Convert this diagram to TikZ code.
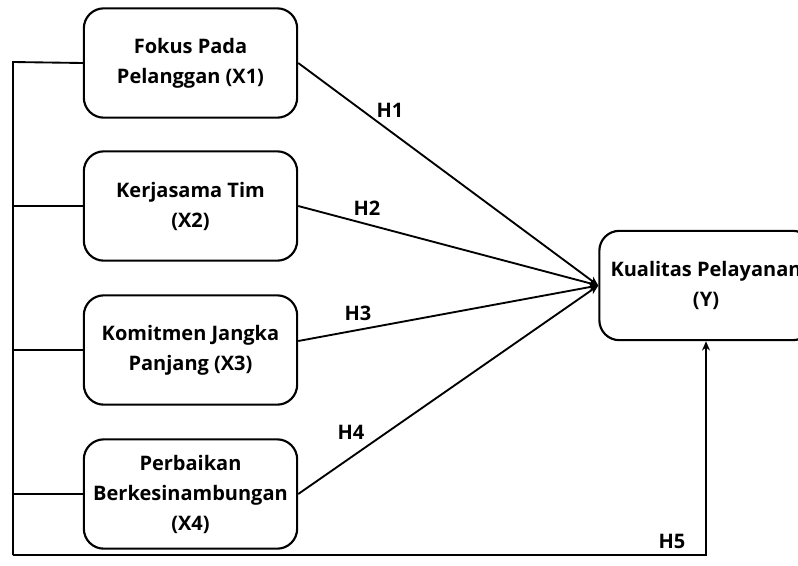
\documentclass[tikz,border=0pt]{standalone}
\usepackage{fontspec}
\setmainfont{Open Sans}
\usetikzlibrary{arrows.meta}
\begin{document}
\begin{tikzpicture}[x=0.75pt,y=-0.75pt,
	box/.style={draw,line width=1.6pt,rounded corners=15pt,minimum width=160pt,minimum height=82pt,align=center,inner sep=0pt,font=\bfseries\fontsize{15}{22.5}\selectfont},
	hyp/.style={font=\bfseries\fontsize{15}{18}\selectfont},
	link/.style={line width=1.4pt},
	arr/.style={line width=1.4pt,-{Stealth[length=7pt,width=6pt]}}]
		\useasboundingbox (0,0) rectangle (798,565);
		\node[box] (x1) at (190.5,63) {Fokus Pada\\Pelanggan (X1)};
		\node[box] (x2) at (190.5,206) {Kerjasama Tim\\(X2)};
		\node[box] (x3) at (190.5,350) {Komitmen Jangka\\Panjang (X3)};
		\node[box] (x4) at (190.5,494) {Perbaikan\\Berkesinambungan\\(X4)};
		\node[box] (y) at (706,285.5) {Kualitas Pelayanan\\(Y)};
		\coordinate (top) at (13,62);
		\coordinate (bot) at (13,555);
		\draw[arr] (x1.east) -- (y.west);
		\draw[arr] (x2.east) -- (y.west);
		\draw[arr] ([yshift=6.75pt]x3.east) -- (y.west);
		\draw[arr] (x4.east) -- (y.west);
		\draw[link] (x1.west) -- (top) -- (bot);
		\draw[link] (x2.west) -- (x2.west -| top);
		\draw[link] (x3.west) -- (x3.west -| top);
		\draw[link] (x4.west) -- (x4.west -| top);
		\draw[arr] (bot) -| (y.south);
		\node[hyp] (h1) at (390,110) {H1};
		\node[hyp] (h2) at (367,208) {H2};
		\node[hyp] (h3) at (358,313) {H3};
		\node[hyp] (h4) at (351,432) {H4};
		\node[hyp] (h5) at (672,541) {H5};
	\end{tikzpicture}
\end{document}
